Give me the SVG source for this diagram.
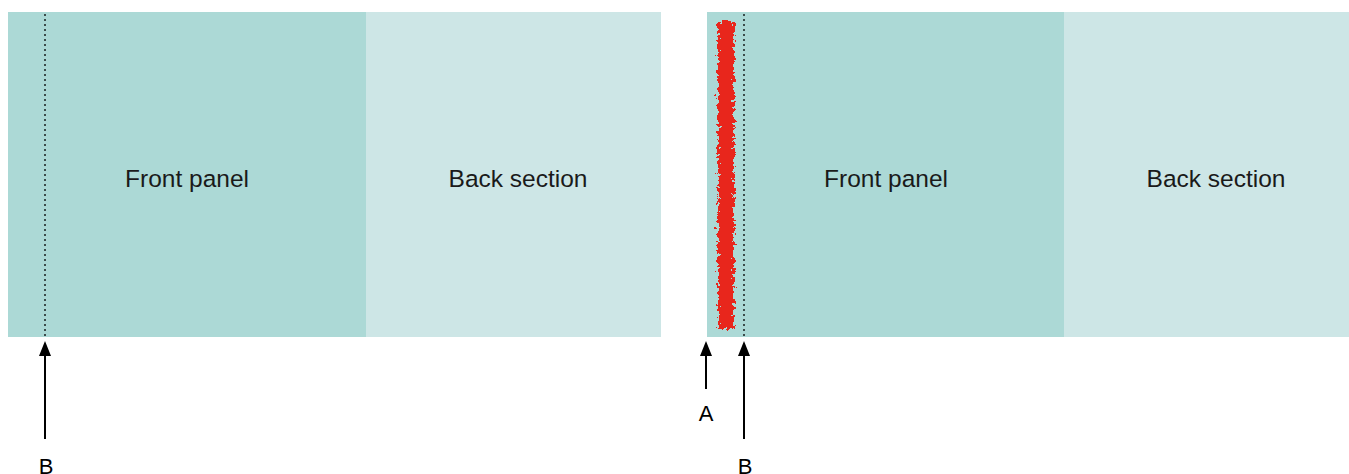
<svg xmlns="http://www.w3.org/2000/svg" width="1349" height="474" viewBox="0 0 1349 474">
<defs>
<style>
.front{fill:#acd9d6}
.back{fill:#cde6e6}
.lbl{font-family:"Liberation Sans",Arial,sans-serif;font-size:24.5px;fill:#1a1a1a;text-anchor:middle}
.ab{font-family:"Liberation Sans",Arial,sans-serif;font-size:22px;fill:#000;text-anchor:middle}
.dot{stroke:#000;stroke-width:1.3;stroke-dasharray:2 3}
.conn{stroke:#000;stroke-width:2;fill:none}
.head{fill:#000}
</style>
<filter id="rough" x="-60%" y="-5%" width="220%" height="110%">
<feTurbulence type="fractalNoise" baseFrequency="0.3" numOctaves="3" seed="7" result="n"/>
<feDisplacementMap in="SourceGraphic" in2="n" scale="11" xChannelSelector="R" yChannelSelector="G"/>
</filter>
</defs>
<g id="left-front"><rect class="front" x="8" y="12" width="358" height="325"/><text class="lbl" x="187" y="187">Front panel</text></g>
<g id="left-back"><rect class="back" x="366" y="12" width="295" height="325"/><text class="lbl" x="518" y="187">Back section</text></g>
<g id="right-front"><rect class="front" x="707" y="12" width="357" height="325"/><text class="lbl" x="886" y="187">Front panel</text></g>
<g id="right-back"><rect class="back" x="1064" y="12" width="290" height="325"/><text class="lbl" x="1216" y="187">Back section</text></g>
<g id="red-strip"><rect x="718" y="21" width="16" height="308" fill="#e8281a" filter="url(#rough)"/></g>
<g id="dotted">
<line class="dot" x1="45" y1="14" x2="45" y2="336"/>
<line class="dot" x1="744" y1="14" x2="744" y2="336"/>
</g>
<g id="connectors">
<line class="conn" x1="45" y1="439" x2="45" y2="352"/>
<polygon class="head" points="45,341 39,356 51,356"/>
<line class="conn" x1="706" y1="389" x2="706" y2="352"/>
<polygon class="head" points="706,341 700,356 712,356"/>
<line class="conn" x1="744" y1="439" x2="744" y2="352"/>
<polygon class="head" points="744,341 738,356 750,356"/>
</g>
<g id="labels">
<text class="ab" x="46" y="474">B</text>
<text class="ab" x="706" y="421">A</text>
<text class="ab" x="745" y="474">B</text>
</g>
</svg>
